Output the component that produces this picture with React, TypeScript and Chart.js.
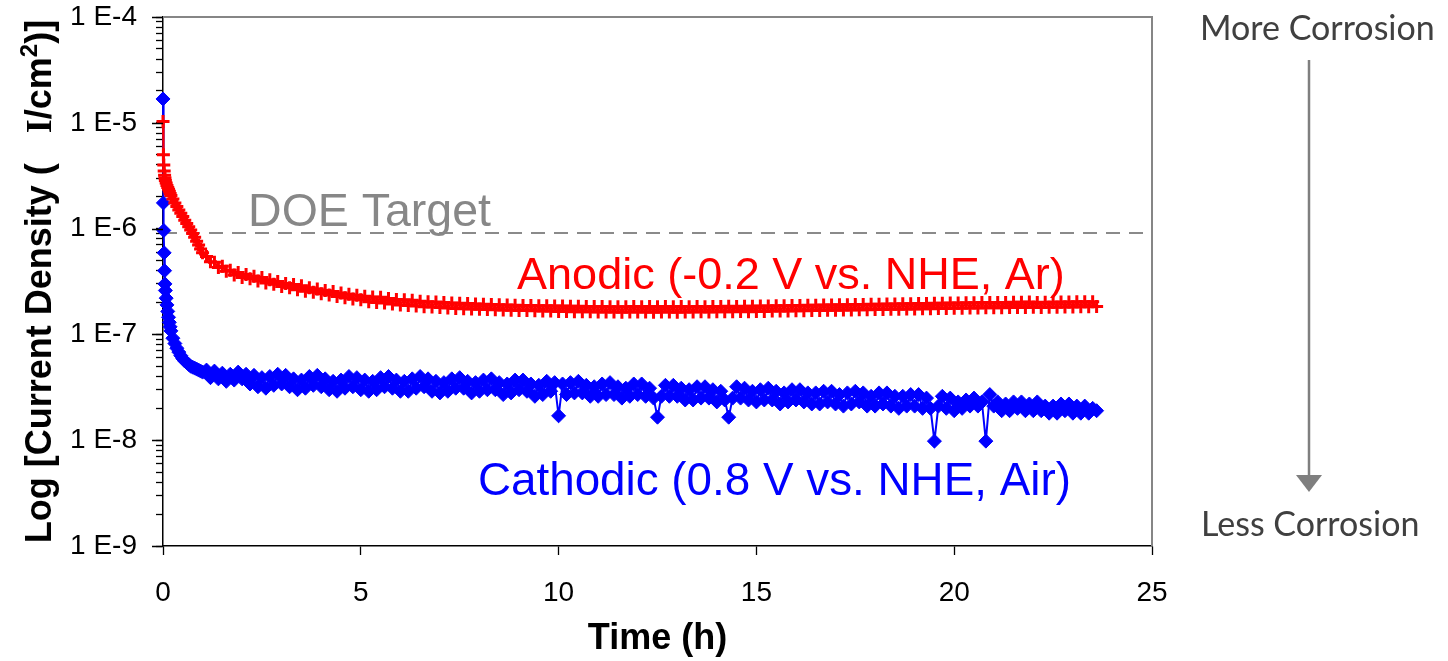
import React, { useEffect, useRef } from "react";
import { Chart, registerables } from "chart.js";

Chart.register(...registerables);

// ---------------- DATA ----------------
// Elapsed time (h) shared by both potentiostatic holds
const TIME_H = [
  0, 0.01, 0.02, 0.03, 0.04, 0.05, 0.06, 0.08, 0.1, 0.12,
  0.14, 0.16, 0.18, 0.2, 0.25, 0.3, 0.35, 0.4, 0.45, 0.5,
  0.55, 0.6, 0.65, 0.7, 0.75, 0.8, 0.85, 0.9, 0.95, 1.0,
  1.1, 1.2, 1.3, 1.4, 1.5, 1.6, 1.7, 1.8, 1.9, 2.0,
  2.1, 2.2, 2.3, 2.4, 2.5, 2.6, 2.7, 2.8, 2.9, 3.0,
  3.1, 3.2, 3.3, 3.4, 3.5, 3.6, 3.7, 3.8, 3.9, 4.0,
  4.1, 4.2, 4.3, 4.4, 4.5, 4.6, 4.7, 4.8, 4.9, 5.0,
  5.1, 5.2, 5.3, 5.4, 5.5, 5.6, 5.7, 5.8, 5.9, 6.0,
  6.1, 6.2, 6.3, 6.4, 6.5, 6.6, 6.7, 6.8, 6.9, 7.0,
  7.1, 7.2, 7.3, 7.4, 7.5, 7.6, 7.7, 7.8, 7.9, 8.0,
  8.1, 8.2, 8.3, 8.4, 8.5, 8.6, 8.7, 8.8, 8.9, 9.0,
  9.1, 9.2, 9.3, 9.4, 9.5, 9.6, 9.7, 9.8, 9.9, 10.0,
  10.1, 10.2, 10.3, 10.4, 10.5, 10.6, 10.7, 10.8, 10.9, 11.0,
  11.1, 11.2, 11.3, 11.4, 11.5, 11.6, 11.7, 11.8, 11.9, 12.0,
  12.1, 12.2, 12.3, 12.4, 12.5, 12.6, 12.7, 12.8, 12.9, 13.0,
  13.1, 13.2, 13.3, 13.4, 13.5, 13.6, 13.7, 13.8, 13.9, 14.0,
  14.1, 14.2, 14.3, 14.4, 14.5, 14.6, 14.7, 14.8, 14.9, 15.0,
  15.1, 15.2, 15.3, 15.4, 15.5, 15.6, 15.7, 15.8, 15.9, 16.0,
  16.1, 16.2, 16.3, 16.4, 16.5, 16.6, 16.7, 16.8, 16.9, 17.0,
  17.1, 17.2, 17.3, 17.4, 17.5, 17.6, 17.7, 17.8, 17.9, 18.0,
  18.1, 18.2, 18.3, 18.4, 18.5, 18.6, 18.7, 18.8, 18.9, 19.0,
  19.1, 19.2, 19.3, 19.4, 19.5, 19.6, 19.7, 19.8, 19.9, 20.0,
  20.1, 20.2, 20.3, 20.4, 20.5, 20.6, 20.7, 20.8, 20.9, 21.0,
  21.1, 21.2, 21.3, 21.4, 21.5, 21.6, 21.7, 21.8, 21.9, 22.0,
  22.1, 22.2, 22.3, 22.4, 22.5, 22.6, 22.7, 22.8, 22.9, 23.0,
  23.1, 23.2, 23.3, 23.4, 23.5, 23.6,
];

// Anodic hold (-0.2 V vs. NHE, Ar) current density, nA/cm2
const ANODIC_NA_CM2 = [
  10300, 5000, 4000, 3500, 3200, 3000, 2850, 2700, 2550, 2450,
  2350, 2250, 2150, 2050, 1900, 1750, 1620, 1500, 1400, 1300,
  1200, 1120, 1040, 970, 900, 830, 760, 700, 640, 590,
  545, 485, 480, 430, 440, 395, 405, 365, 385, 345,
  368, 336, 355, 320, 345, 306, 328, 298, 316, 284,
  302, 276, 296, 264, 288, 256, 276, 250, 268, 242,
  260, 236, 254, 228, 246, 222, 240, 216, 234, 212,
  230, 204, 226, 200, 224, 198, 218, 194, 214, 190,
  212, 188, 210, 186, 206, 183, 204, 182, 202, 180,
  200, 178, 198, 176, 197, 175, 196, 174, 194, 173,
  193, 172, 192, 171, 191, 170, 190, 169, 189, 168,
  188, 168, 188, 167, 187, 166, 187, 166, 186, 165,
  186, 165, 185, 164, 185, 164, 184, 164, 184, 163,
  184, 163, 183, 163, 183, 162, 183, 163, 184, 163,
  183, 163, 184, 162, 183, 163, 184, 163, 183, 162,
  184, 163, 183, 163, 184, 164, 183, 163, 184, 164,
  184, 164, 185, 164, 184, 165, 185, 164, 185, 165,
  186, 165, 186, 166, 187, 166, 187, 166, 188, 167,
  188, 167, 189, 168, 189, 168, 190, 169, 190, 169,
  191, 170, 191, 170, 192, 171, 192, 171, 193, 172,
  193, 172, 194, 173, 194, 173, 195, 174, 195, 174,
  196, 175, 196, 175, 197, 176, 197, 176, 198, 177,
  198, 177, 199, 178, 199, 178, 200, 179, 200, 179,
  200, 179, 200, 180, 201, 180, 201, 180, 202, 181,
  200, 180, 201, 181, 201, 181, 202, 182, 202, 182,
  203, 183, 203, 183, 204, 184,
];

// Cathodic hold (0.8 V vs. NHE, Air) current density, nA/cm2
const CATHODIC_NA_CM2 = [
  16800, 1750, 960, 590, 400, 300, 260, 220, 190, 165,
  145, 130, 118, 108, 92, 82, 74, 68, 63, 59,
  56, 54, 52, 50, 49, 48, 47, 46, 45, 44,
  46, 39, 45, 38, 43, 36, 42, 37, 44, 38,
  42, 34, 41, 32, 39, 31, 40, 33, 42, 34,
  41, 32, 38, 30, 37, 31, 40, 33, 41, 32,
  38, 30, 36, 29, 37, 31, 40, 32, 39, 30,
  37, 29, 36, 30, 39, 32, 40, 31, 37, 29,
  36, 29, 38, 31, 40, 32, 38, 29, 36, 28,
  35, 29, 38, 31, 39, 31, 36, 28, 35, 29,
  37, 30, 38, 30, 35, 27, 34, 28, 37, 30,
  37, 29, 34, 26, 33, 27, 36, 29, 35, 17,
  34, 27, 35, 28, 36, 28, 33, 26, 32, 26,
  34, 27, 35, 27, 32, 25, 31, 26, 34, 27,
  34, 26, 31, 25, 16.5, 26, 33, 26, 33, 26,
  31, 24, 30, 24, 32, 25, 32, 25, 30, 23,
  29, 24, 16.5, 25, 32, 25, 31, 24, 29, 23,
  30, 24, 31, 24, 29, 22, 28, 23, 30, 24,
  30, 23, 28, 22, 28, 22, 29, 23, 29, 22,
  27, 21, 28, 22, 29, 23, 28, 21, 26, 21,
  28, 22, 28, 21, 26, 20, 26, 21, 27, 21,
  27, 20, 25, 20, 9.8, 21, 26, 20, 25, 19,
  23, 20, 24, 21, 25, 21, 23, 9.8, 27, 21,
  23, 19, 22, 19, 23, 20, 23, 19, 22, 19,
  23, 19, 21, 18, 21, 18, 22, 19, 22, 18,
  21, 18, 21, 18, 20, 19,
];

const NA_TO_A = 1e-9;
const DOE_TARGET_A_CM2 = 9.1e-7;

const X_TICKS = [0, 5, 10, 15, 20, 25];
const Y_MAJOR_TICKS = [1e-9, 1e-8, 1e-7, 1e-6, 1e-5, 1e-4];
const Y_TICK_LABELS = ["1 E-9", "1 E-8", "1 E-7", "1 E-6", "1 E-5", "1 E-4"];
const Y_MINOR_MULTIPLIERS = [2, 3, 4, 5, 6, 7, 8, 9];

const X_TITLE = "Time (h)";
const Y_TITLE_MAIN = "Log [Current Density (   ";
const Y_TITLE_UNIT_I = "I";
const Y_TITLE_UNIT = "/cm";
const Y_TITLE_SUP = "2";
const Y_TITLE_END = ")]";

const DOE_LABEL = "DOE Target";
const ANODIC_LABEL = "Anodic (-0.2 V vs. NHE, Ar)";
const CATHODIC_LABEL = "Cathodic (0.8 V vs. NHE, Air)";
const MORE_LABEL = "More Corrosion";
const LESS_LABEL = "Less Corrosion";

// label anchor points in data coordinates (left, baseline)
const DOE_LABEL_AT = { x: 2.15, y: 1.06e-6 };
const ANODIC_LABEL_AT = { x: 8.95, y: 2.69e-7 };
const CATHODIC_LABEL_AT = { x: 7.96, y: 3.03e-9 };

const SANS = '"Liberation Sans", Arial, Helvetica, sans-serif';

// ---------------- PLUGINS ----------------
const decorPlugin = {
  id: "decor",
  beforeDatasetsDraw(chart: any) {
    const { ctx, chartArea } = chart;
    ctx.save();
    ctx.strokeStyle = "#868686";
    ctx.lineWidth = 2;
    ctx.beginPath();
    ctx.moveTo(chartArea.left, chartArea.top);
    ctx.lineTo(chartArea.right, chartArea.top);
    ctx.lineTo(chartArea.right, chartArea.bottom);
    ctx.stroke();
    ctx.restore();
  },
  afterDatasetsDraw(chart: any) {
    const { ctx, chartArea, scales } = chart;
    const x = scales.x;
    const y = scales.y;
    ctx.save();
    ctx.textAlign = "left";
    ctx.textBaseline = "alphabetic";
    ctx.font = `46.5px ${SANS}`;
    ctx.fillStyle = "#878787";
    ctx.fillText(DOE_LABEL, x.getPixelForValue(DOE_LABEL_AT.x), y.getPixelForValue(DOE_LABEL_AT.y));
    ctx.font = `45px ${SANS}`;
    ctx.fillStyle = "#ff0000";
    ctx.fillText(ANODIC_LABEL, x.getPixelForValue(ANODIC_LABEL_AT.x), y.getPixelForValue(ANODIC_LABEL_AT.y));
    ctx.font = `45.8px ${SANS}`;
    ctx.fillStyle = "#0000ff";
    ctx.fillText(CATHODIC_LABEL, x.getPixelForValue(CATHODIC_LABEL_AT.x), y.getPixelForValue(CATHODIC_LABEL_AT.y));

    // longer major ticks on the y axis
    ctx.strokeStyle = "#000";
    ctx.lineWidth = 1.3;
    ctx.beginPath();
    Y_MAJOR_TICKS.forEach((v) => {
      const py = Math.round(y.getPixelForValue(v)) + 0.5;
      ctx.moveTo(chartArea.left - 11, py);
      ctx.lineTo(chartArea.left, py);
    });
    ctx.stroke();

    // right-hand arrow annotation
    const ax = chartArea.right + 157;
    ctx.font = `34px Lato, "Open Sans", sans-serif`;
    ctx.fillStyle = "#404040";
    ctx.fillText(MORE_LABEL, chartArea.right + 48, chartArea.top + 23);
    ctx.fillText(LESS_LABEL, chartArea.right + 49, chartArea.bottom - 10);
    ctx.strokeStyle = "#7f7f7f";
    ctx.fillStyle = "#7f7f7f";
    ctx.lineWidth = 2.5;
    ctx.beginPath();
    ctx.moveTo(ax, chartArea.top + 43);
    ctx.lineTo(ax, chartArea.bottom - 70);
    ctx.stroke();
    ctx.beginPath();
    ctx.moveTo(ax - 13, chartArea.bottom - 71);
    ctx.lineTo(ax + 13, chartArea.bottom - 71);
    ctx.lineTo(ax, chartArea.bottom - 54);
    ctx.closePath();
    ctx.fill();

    // y-axis title with superscript
    const cy = (chartArea.top + chartArea.bottom) / 2;
    const fMain = `bold 36px ${SANS}`;
    const fSerif = `bold 36px "Liberation Serif", "Times New Roman", serif`;
    const fSup = `bold 24px ${SANS}`;
    const parts = [
      { t: Y_TITLE_MAIN, f: fMain, dy: 0 },
      { t: Y_TITLE_UNIT_I, f: fSerif, dy: 0 },
      { t: Y_TITLE_UNIT, f: fMain, dy: 0 },
      { t: Y_TITLE_SUP, f: fSup, dy: -14 },
      { t: Y_TITLE_END, f: fMain, dy: 0 },
    ];
    let total = 0;
    const widths = parts.map((p) => {
      ctx.font = p.f;
      const w = ctx.measureText(p.t).width;
      total += w;
      return w;
    });
    ctx.translate(38, cy);
    ctx.rotate(-Math.PI / 2);
    ctx.fillStyle = "#000";
    let cx = -total / 2;
    parts.forEach((p, i) => {
      ctx.font = p.f;
      ctx.fillText(p.t, cx, 13 + p.dy);
      cx += widths[i];
    });
    ctx.restore();
  },
};

export default function App() {
  const ref = useRef<HTMLCanvasElement>(null);

  useEffect(() => {
    if (!ref.current) return;
    const anodic = TIME_H.map((t, i) => ({ x: t, y: ANODIC_NA_CM2[i] * NA_TO_A }));
    const cathodic = TIME_H.map((t, i) => ({ x: t, y: CATHODIC_NA_CM2[i] * NA_TO_A }));
    const doe = [
      { x: X_TICKS[0], y: DOE_TARGET_A_CM2 },
      { x: X_TICKS[X_TICKS.length - 1], y: DOE_TARGET_A_CM2 },
    ];

    const chart = new Chart(ref.current, {
      type: "line",
      data: {
        datasets: [
          {
            label: ANODIC_LABEL,
            data: anodic,
            borderColor: "#ff0000",
            backgroundColor: "#ff0000",
            borderWidth: 2,
            pointStyle: "cross",
            pointRadius: 6.5,
            pointBorderWidth: 3,
            pointBorderColor: "#ff0000",
            pointBackgroundColor: "#ff0000",
            tension: 0,
            clip: false,
          } as any,
          {
            label: CATHODIC_LABEL,
            data: cathodic,
            borderColor: "#0000ff",
            backgroundColor: "#0000ff",
            borderWidth: 2,
            pointStyle: "rectRot",
            pointRadius: 7,
            pointBorderWidth: 1,
            pointBorderColor: "#0000ff",
            pointBackgroundColor: "#0000ff",
            tension: 0,
            clip: false,
          } as any,
          {
            label: DOE_LABEL,
            data: doe,
            borderColor: "#8a8a8a",
            borderWidth: 2,
            borderDash: [14, 9],
            pointRadius: 0,
            tension: 0,
          } as any,
        ],
      },
      options: {
        responsive: false,
        animation: false,
        devicePixelRatio: 1,
        events: [],
        layout: { padding: { top: 17, right: 296, left: 0, bottom: 0 } },
        plugins: {
          legend: { display: false },
          tooltip: { enabled: false },
        },
        scales: {
          x: {
            type: "linear",
            min: X_TICKS[0],
            max: X_TICKS[X_TICKS.length - 1],
            afterBuildTicks: (scale: any) => {
              scale.ticks = X_TICKS.map((v) => ({ value: v }));
            },
            afterFit: (scale: any) => {
              scale.height = 115;
              scale.paddingLeft = 0;
              scale.paddingRight = 0;
            },
            ticks: {
              font: { family: SANS, size: 28 },
              color: "#000",
              padding: 21,
              maxRotation: 0,
              autoSkip: false,
            },
            grid: {
              drawOnChartArea: false,
              drawTicks: true,
              tickLength: 9,
              tickColor: "#000",
              tickWidth: 1.3,
            },
            border: { display: true, color: "#000", width: 1.5 },
            title: {
              display: true,
              text: X_TITLE,
              color: "#000",
              font: { family: SANS, size: 36, weight: "bold" },
              padding: { top: 0, bottom: 0 },
            },
          },
          y: {
            type: "logarithmic",
            min: Y_MAJOR_TICKS[0],
            max: Y_MAJOR_TICKS[Y_MAJOR_TICKS.length - 1],
            afterBuildTicks: (scale: any) => {
              const ticks: any[] = [];
              Y_MAJOR_TICKS.forEach((m, i) => {
                ticks.push({ value: m, major: true });
                if (i < Y_MAJOR_TICKS.length - 1) {
                  Y_MINOR_MULTIPLIERS.forEach((k) => ticks.push({ value: m * k, major: false }));
                }
              });
              scale.ticks = ticks;
            },
            afterFit: (scale: any) => {
              scale.width = 163;
              scale.paddingTop = 0;
              scale.paddingBottom = 0;
            },
            ticks: {
              font: { family: SANS, size: 28 },
              color: "#000",
              padding: 19,
              autoSkip: false,
              maxRotation: 0,
              callback: (value: any) => {
                const idx = Y_MAJOR_TICKS.findIndex((m) => Math.abs(m - value) / m < 1e-6);
                return idx >= 0 ? Y_TICK_LABELS[idx] : "";
              },
            },
            grid: {
              drawOnChartArea: false,
              drawTicks: true,
              tickLength: 7,
              tickColor: "#000",
              tickWidth: 1.3,
            },
            border: { display: true, color: "#000", width: 1.5 },
            title: { display: false },
          },
        },
      },
      plugins: [decorPlugin],
    } as any);

    return () => chart.destroy();
  }, []);

  return (
    <div style={{ position: "absolute", left: 0, top: 0, width: 1448, height: 661, background: "#fff" }}>
      <canvas ref={ref} width={1448} height={661} style={{ display: "block", width: 1448, height: 661 }} />
    </div>
  );
}
